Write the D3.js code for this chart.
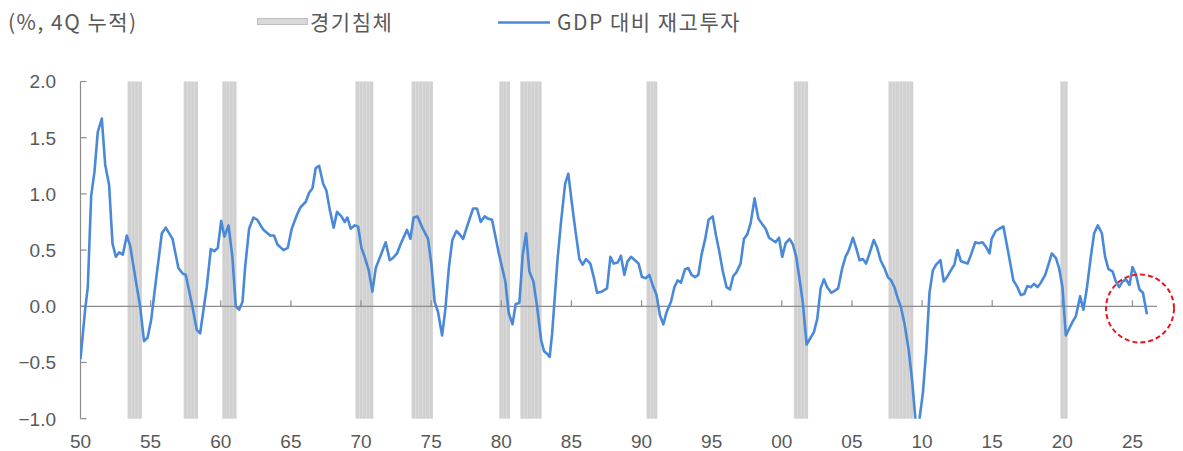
<!DOCTYPE html>
<html>
<head>
<meta charset="utf-8">
<script src="https://cdn.jsdelivr.net/npm/d3@7"></script>
<style>
  body { margin: 0; background: #fff; }
  text { font-family: "Liberation Sans", "Noto Sans CJK KR", sans-serif; fill: #595959; }
  text.kr { font-family: "Noto Sans CJK KR", sans-serif; letter-spacing: 1.5px; }
</style>
</head>
<body>
<div id="chart"></div>
<script>
const WIDTH = 1183, HEIGHT = 451;

// GDP 대비 재고투자 (%, 4Q 누적) — vertices
const years = [
  1950.0,1950.33,1950.52,1950.76,1951.0,1951.23,1951.52,1951.76,1952.04,1952.28,1952.52,1952.76,
  1953.02,1953.3,1953.54,1953.9,1954.25,1954.53,1954.78,1955.04,1955.32,1955.8,1956.08,1956.56,
  1956.98,1957.3,1957.5,1957.93,1958.29,1958.53,1959.0,1959.29,1959.53,1959.79,1960.03,1960.26,
  1960.55,1960.83,1961.07,1961.31,1961.55,1961.74,1962.02,1962.33,1962.6,1963.04,1963.52,1963.8,
  1964.04,1964.47,1964.78,1965.06,1965.42,1965.68,1966.06,1966.3,1966.54,1966.77,1967.01,1967.3,
  1967.53,1967.77,1968.05,1968.29,1968.6,1968.84,1969.03,1969.26,1969.55,1969.79,1970.03,1970.26,
  1970.55,1970.81,1971.05,1971.33,1971.76,1972.05,1972.28,1972.57,1972.81,1973.28,1973.52,1973.75,
  1974.02,1974.37,1974.78,1975.02,1975.25,1975.49,1975.78,1976.01,1976.27,1976.51,1976.8,1977.03,
  1977.28,1977.56,1977.99,1978.27,1978.53,1978.82,1979.05,1979.34,1979.81,1980.29,1980.53,1980.8,
  1981.03,1981.29,1981.53,1981.77,1982.0,1982.29,1982.55,1982.84,1983.05,1983.25,1983.45,1983.62,
  1984.02,1984.26,1984.55,1984.78,1985.02,1985.28,1985.57,1985.8,1986.04,1986.35,1986.59,1986.83,
  1987.16,1987.54,1987.78,1988.01,1988.3,1988.53,1988.77,1989.0,1989.25,1989.53,1989.79,1990.03,
  1990.32,1990.55,1990.79,1991.07,1991.31,1991.55,1991.79,1992.1,1992.34,1992.57,1992.81,1993.1,
  1993.33,1993.57,1993.81,1994.05,1994.28,1994.54,1994.78,1995.07,1995.31,1995.54,1995.78,1996.06,
  1996.3,1996.54,1996.75,1997.06,1997.3,1997.54,1997.78,1998.06,1998.33,1998.61,1998.85,1999.09,
  1999.32,1999.56,1999.8,2000.03,2000.27,2000.55,2000.79,2001.03,2001.28,2001.5,2001.77,2002.05,
  2002.29,2002.53,2002.77,2003.0,2003.24,2003.53,2003.79,2004.02,2004.31,2004.54,2004.78,2005.07,
  2005.3,2005.54,2005.78,2006.01,2006.25,2006.56,2006.8,2007.04,2007.32,2007.56,2007.8,2008.03,
  2008.27,2008.5,2008.74,2009.05,2009.29,2009.53,2009.68,2009.82,2010.06,2010.3,2010.53,2010.77,
  2011.0,2011.31,2011.55,2011.78,2012.05,2012.3,2012.53,2012.77,2013.25,2013.49,2013.79,2014.03,
  2014.31,2014.55,2014.81,2014.96,2015.25,2015.51,2015.8,2016.16,2016.51,2016.8,2017.04,2017.28,
  2017.51,2017.76,2017.99,2018.23,2018.47,2018.78,2019.01,2019.25,2019.54,2019.77,2020.01,2020.25,
  2020.49,2020.72,2020.96,2021.27,2021.5,2021.75,2022.03,2022.27,2022.53,2022.82,2023.05,2023.29,
  2023.58,2023.82,2024.05,2024.29,2024.53,2024.79,2025.0,2025.25,2025.5,2025.75,2026.03
];
const invShare = [
  -0.47,-0.03,0.17,0.98,1.20,1.55,1.67,1.26,1.08,0.56,0.44,0.48,
  0.46,0.63,0.54,0.26,0.00,-0.31,-0.28,-0.12,0.17,0.65,0.70,0.60,
  0.34,0.29,0.28,0.03,-0.21,-0.24,0.17,0.51,0.49,0.52,0.76,0.62,
  0.72,0.44,0.00,-0.03,0.04,0.35,0.69,0.79,0.77,0.68,0.63,0.63,
  0.55,0.50,0.52,0.69,0.81,0.88,0.93,1.01,1.05,1.23,1.25,1.09,
  1.03,0.86,0.70,0.84,0.80,0.75,0.79,0.69,0.72,0.71,0.52,0.44,
  0.32,0.13,0.34,0.43,0.57,0.41,0.43,0.47,0.55,0.68,0.60,0.79,
  0.80,0.70,0.60,0.37,0.04,-0.05,-0.26,-0.03,0.35,0.59,0.67,0.64,
  0.60,0.71,0.87,0.87,0.75,0.80,0.78,0.77,0.48,0.22,-0.06,-0.16,
  0.02,0.03,0.46,0.65,0.31,0.22,0.00,-0.30,-0.40,-0.42,-0.45,-0.25,
  0.43,0.75,1.09,1.18,0.93,0.68,0.42,0.37,0.42,0.38,0.26,0.12,
  0.13,0.16,0.44,0.38,0.39,0.45,0.28,0.40,0.44,0.41,0.38,0.26,
  0.25,0.28,0.19,0.10,-0.08,-0.16,-0.05,0.04,0.17,0.23,0.21,0.33,
  0.34,0.28,0.26,0.28,0.46,0.60,0.77,0.80,0.63,0.49,0.32,0.17,
  0.15,0.27,0.30,0.38,0.60,0.64,0.74,0.96,0.78,0.73,0.69,0.61,
  0.59,0.57,0.61,0.44,0.56,0.60,0.55,0.44,0.23,0.03,-0.34,-0.28,
  -0.23,-0.11,0.16,0.24,0.17,0.12,0.14,0.16,0.34,0.44,0.50,0.61,
  0.52,0.41,0.42,0.38,0.47,0.59,0.52,0.41,0.34,0.26,0.23,0.17,
  0.07,-0.01,-0.15,-0.39,-0.66,-1.01,-1.12,-1.00,-0.77,-0.39,0.12,0.32,
  0.37,0.41,0.22,0.26,0.32,0.37,0.50,0.40,0.38,0.46,0.57,0.56,
  0.57,0.53,0.47,0.60,0.67,0.69,0.71,0.47,0.23,0.17,0.10,0.11,
  0.18,0.17,0.20,0.17,0.21,0.28,0.37,0.47,0.43,0.34,0.17,-0.26,
  -0.20,-0.14,-0.09,0.09,-0.03,0.16,0.44,0.65,0.72,0.65,0.44,0.33,
  0.31,0.22,0.17,0.22,0.24,0.19,0.35,0.28,0.15,0.12,-0.07
];

// 경기침체 (first quarter, last quarter)
const recessions = [
  [1953.5, 1954.25], [1957.5, 1958.25], [1960.25, 1961.0], [1969.75, 1970.75],
  [1973.75, 1975.0], [1980.0, 1980.5], [1981.5, 1982.75], [1990.5, 1991.0],
  [2001.0, 2001.75], [2007.75, 2009.25], [2020.0, 2020.25]
];

const yTicks = [2.0, 1.5, 1.0, 0.5, 0.0, -0.5, -1.0];
const xTicks = [1950,1955,1960,1965,1970,1975,1980,1985,1990,1995,2000,2005,2010,2015,2020,2025];

const svg = d3.select("#chart").append("svg")
  .attr("width", WIDTH).attr("height", HEIGHT);

const x = d3.scaleLinear().domain([1950, 2026.75]).range([80.5, 1157]);
const y = d3.scaleLinear().domain([-1, 2]).range([418.7, 81.5]);
const qw = x(1950.25) - x(1950);

svg.append("defs").append("clipPath").attr("id", "plot")
  .append("rect").attr("x", 80).attr("y", y(2)).attr("width", 1080).attr("height", y(-1) - y(2));

// recession columns, one per quarter
const recQ = [];
recessions.forEach(([a, b]) => { for (let t = a; t <= b + 1e-6; t += 0.25) recQ.push(t); });
svg.append("g").selectAll("rect").data(recQ).join("rect")
  .attr("x", d => x(d) - qw / 2).attr("width", qw)
  .attr("y", y(2)).attr("height", y(-1) - y(2))
  .attr("fill", "#d0d0d0");
svg.append("g").selectAll("line").data(recQ).join("line")
  .attr("x1", d => x(d) - qw / 2).attr("x2", d => x(d) - qw / 2)
  .attr("y1", y(2)).attr("y2", y(-1))
  .attr("stroke", "#dcdcdc").attr("stroke-width", 0.7);

// axes
svg.append("line").attr("x1", x(1950)).attr("x2", x(1950))
  .attr("y1", y(2)).attr("y2", y(-1)).attr("stroke", "#8c8c8c").attr("stroke-width", 1.2);
svg.append("g").selectAll("line").data(yTicks).join("line")
  .attr("x1", x(1950)).attr("x2", x(1950) + 6)
  .attr("y1", d => y(d)).attr("y2", d => y(d))
  .attr("stroke", "#8c8c8c").attr("stroke-width", 1.2);
svg.append("line").attr("x1", x(1950)).attr("x2", 1157)
  .attr("y1", y(0)).attr("y2", y(0)).attr("stroke", "#8c8c8c").attr("stroke-width", 1.3);
svg.append("g").selectAll("line").data(xTicks.slice(1)).join("line")
  .attr("x1", d => x(d)).attr("x2", d => x(d))
  .attr("y1", y(0)).attr("y2", y(0) - 6)
  .attr("stroke", "#8c8c8c").attr("stroke-width", 1.2);

svg.append("g").selectAll("text").data(yTicks).join("text")
  .attr("x", 56).attr("y", d => y(d)).attr("dy", "0.36em")
  .attr("text-anchor", "end").attr("font-size", 19)
  .text(d => d3.format(".1f")(d).replace("-", "−"));
svg.append("g").selectAll("text").data(xTicks).join("text")
  .attr("x", d => x(d)).attr("y", 441).attr("dy", "0.36em")
  .attr("text-anchor", "middle").attr("font-size", 19)
  .text(d => String(d % 100).padStart(2, "0"));

// series
const pts = years.map((t, i) => [t, invShare[i]]);
svg.append("path").datum(pts)
  .attr("clip-path", "url(#plot)")
  .attr("fill", "none").attr("stroke", "#4a89d8").attr("stroke-width", 2.6)
  .attr("stroke-linejoin", "round")
  .attr("d", d3.line().x(d => x(d[0])).y(d => y(d[1])));

// highlight circle
svg.append("circle").attr("cx", 1140).attr("cy", 308.5).attr("r", 34)
  .attr("fill", "none").attr("stroke", "#e8141b").attr("stroke-width", 2)
  .attr("stroke-dasharray", "5,3");

// unit + legend
svg.append("text").attr("class", "kr").attr("x", 8).attr("y", 22).attr("dy", "0.36em")
  .attr("font-size", 21).text("(%, 4Q 누적)");
svg.append("rect").attr("x", 257.5).attr("y", 18.5).attr("width", 50).attr("height", 6)
  .attr("fill", "#d9d9d9").attr("stroke", "#bfbfbf");
svg.append("text").attr("class", "kr").attr("x", 310).attr("y", 22).attr("dy", "0.36em")
  .attr("font-size", 21).text("경기침체");
svg.append("line").attr("x1", 498).attr("x2", 550).attr("y1", 22.5).attr("y2", 22.5)
  .attr("stroke", "#4a89d8").attr("stroke-width", 2.6);
svg.append("text").attr("class", "kr").attr("x", 557).attr("y", 22).attr("dy", "0.36em")
  .attr("font-size", 21).text("GDP 대비 재고투자");
</script>
</body>
</html>
